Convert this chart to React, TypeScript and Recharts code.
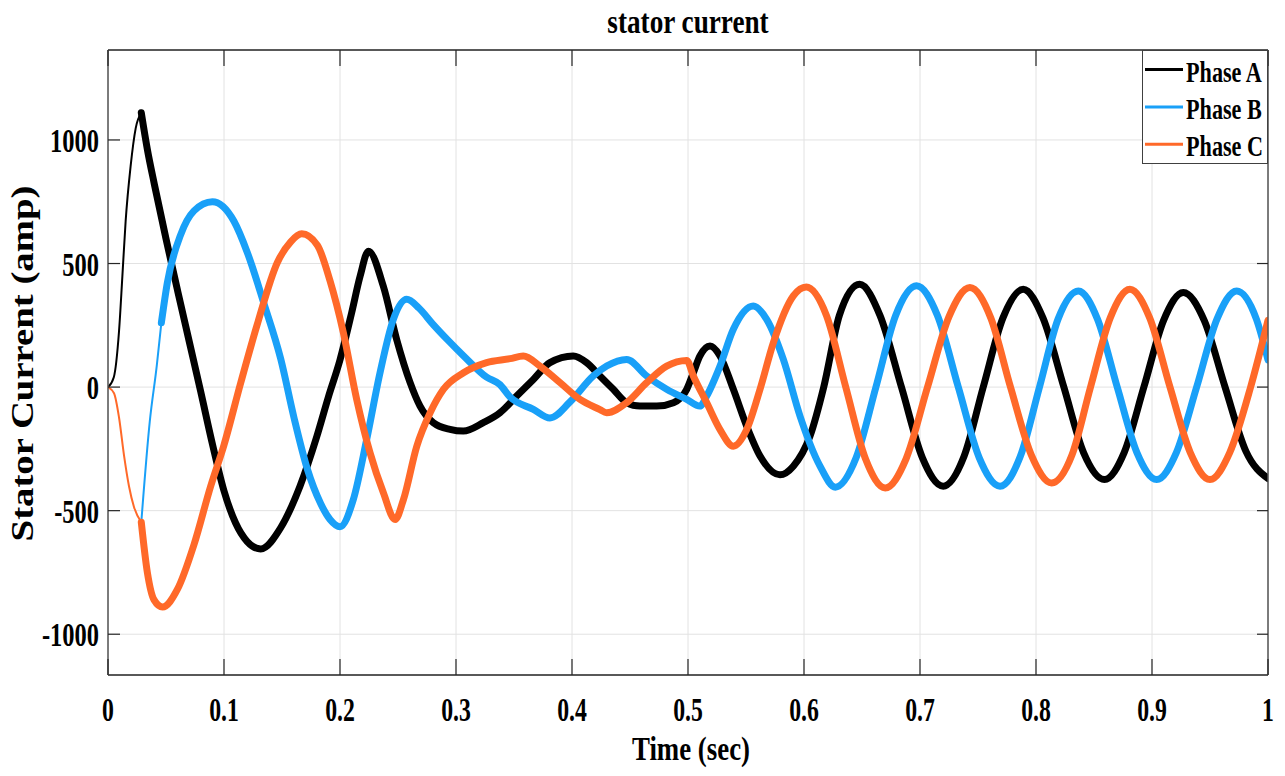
import { CartesianGrid, Legend, Line, LineChart, XAxis, YAxis } from "recharts";

type Pt = [number, number];

// time (s), current (A)
const phaseAStart: Pt[] = [
  [0, 0], [0.005, 40], [0.0095, 226], [0.0124, 449], [0.0152, 671], [0.0195, 894], [0.0239, 1048], [0.0287, 1110],
];
const phaseA: Pt[] = [
  [0.0287, 1110], [0.034, 960], [0.04, 820], [0.05, 600], [0.06, 390], [0.07, 185], [0.08, -20],
  [0.09, -230], [0.1, -420], [0.11, -550], [0.12, -625], [0.1316, -655], [0.149, -568], [0.1655, -401],
  [0.18, -200], [0.19, -40], [0.2, 110], [0.21, 300], [0.2174, 450], [0.2245, 550], [0.2373, 409],
  [0.249, 190], [0.2603, 20], [0.269, -77], [0.2805, -144], [0.2948, -171], [0.3063, -178], [0.3236, -144],
  [0.3379, -104], [0.3523, -36], [0.3667, 31], [0.381, 99], [0.4011, 126], [0.4126, 99], [0.4241, 45],
  [0.4356, -9], [0.4471, -63], [0.4586, -77], [0.473, -77], [0.4874, -63], [0.4989, -9], [0.5046, 58],
  [0.5103, 126], [0.519, 166], [0.5276, 126], [0.5391, -9], [0.5506, -158], [0.5621, -279], [0.5793, -355],
  [0.5908, -320], [0.6052, -198], [0.617, 0], [0.6305, 290], [0.648, 416], [0.6655, 290], [0.684, 0],
  [0.702, -285], [0.72, -401], [0.738, -280], [0.7545, 0], [0.7715, 280], [0.789, 396], [0.806, 280],
  [0.824, 0], [0.841, -265], [0.859, -374], [0.876, -265], [0.893, 0], [0.91, 270], [0.927, 383],
  [0.945, 270], [0.963, 0], [0.981, -260], [1.0, -370],
];

const phaseBStart: Pt[] = [[0.0287, -547], [0.036, -140], [0.042, 85], [0.046, 260]];
const phaseB: Pt[] = [
  [0.046, 260], [0.0511, 421], [0.0626, 616], [0.0741, 713], [0.09, 750], [0.1086, 671], [0.12, 546],
  [0.1345, 337], [0.1489, 114], [0.1603, -123], [0.1718, -331], [0.1833, -471], [0.1914, -536], [0.2, -565],
  [0.2115, -455], [0.223, -212], [0.2345, 58], [0.246, 274], [0.2575, 355], [0.268, 320], [0.28, 255],
  [0.293, 190], [0.3066, 126], [0.3264, 40], [0.3379, 10], [0.3466, -40], [0.3667, -90], [0.381, -125],
  [0.3983, -60], [0.4184, 45], [0.4299, 85], [0.4471, 112], [0.4644, 45], [0.4816, -9], [0.4989, -50],
  [0.5103, -77], [0.5161, -36], [0.5276, 85], [0.5391, 234], [0.5563, 328], [0.5678, 274], [0.5822, 112],
  [0.5966, -118], [0.6138, -320], [0.627, -405], [0.645, -285], [0.662, 0], [0.679, 290], [0.697, 410],
  [0.715, 290], [0.733, 0], [0.751, -285], [0.769, -401], [0.7865, -280], [0.803, 0], [0.819, 275],
  [0.8365, 389], [0.853, 275], [0.87, 0], [0.887, -265], [0.904, -374], [0.921, -265], [0.9385, 0],
  [0.956, 275], [0.973, 389], [0.99, 275], [1.0, 110],
];

const phaseCStart: Pt[] = [
  [0, 0], [0.0052, -25], [0.0095, -123], [0.0138, -276], [0.0181, -401], [0.0224, -485], [0.0287, -547],
];
const phaseC: Pt[] = [
  [0.0287, -547], [0.0339, -749], [0.0397, -861], [0.047, -890], [0.0598, -819], [0.0741, -638],
  [0.0885, -401], [0.1, -234], [0.1144, 17], [0.1287, 254], [0.146, 504], [0.1575, 588], [0.167, 620],
  [0.1805, 574], [0.1914, 430], [0.2029, 220], [0.2144, -50], [0.2259, -266], [0.2374, -428], [0.2475, -536],
  [0.2547, -455], [0.2662, -239], [0.2777, -104], [0.2892, -9], [0.3065, 58], [0.3264, 99], [0.3466, 115],
  [0.358, 126], [0.3724, 85], [0.3897, 18], [0.4069, -50], [0.4241, -91], [0.4299, -104], [0.4471, -63],
  [0.4644, 18], [0.4816, 85], [0.4989, 108], [0.5046, 45], [0.5161, -63], [0.5276, -172], [0.5391, -239],
  [0.5506, -172], [0.5621, -9], [0.5736, 180], [0.5908, 369], [0.602, 405], [0.6195, 288], [0.636, 0],
  [0.653, -290], [0.67, -408], [0.688, -290], [0.7065, 0], [0.725, 285], [0.743, 403], [0.761, 280],
  [0.778, 0], [0.796, -275], [0.8135, -388], [0.831, -275], [0.847, 0], [0.864, 280], [0.881, 396],
  [0.898, 280], [0.9155, 0], [0.933, -265], [0.95, -374], [0.967, -265], [0.985, 0], [1.0, 270],
];

const xTicks = [0, 0.1, 0.2, 0.3, 0.4, 0.5, 0.6, 0.7, 0.8, 0.9, 1];
const yTicks = [-1000, -500, 0, 500, 1000];
const xDomain: [number, number] = [0, 1];
const yDomain: [number, number] = [-1165, 1364];

const seriesNames = ["Phase A", "Phase B", "Phase C"];
const COLORS = ["#000000", "#19a0f8", "#ff6929"];

const FONT = '"Liberation Serif", "Times New Roman", serif';
const AXIS = "#262626";

const toRows = (pts: Pt[]) => pts.map(([t, v]) => ({ t, v }));

// labels in the source are squeezed horizontally, so text gets a scaleX
function SquishText({ x, y, sx, size, anchor = "middle", children }: any) {
  return (
    <g transform={`translate(${x},${y}) scale(${sx},1)`}>
      <text x={0} y={0} textAnchor={anchor} fontFamily={FONT} fontWeight="bold" fontSize={size} fill="#000">
        {children}
      </text>
    </g>
  );
}

const BottomTick = ({ x, y, payload }: any) => (
  <g>
    <line x1={x} y1={y} x2={x} y2={y - 16} stroke={AXIS} strokeWidth={1.2} />
    <SquishText x={x} y={y + 46} sx={0.7} size={34}>
      {String(payload.value)}
    </SquishText>
  </g>
);

const TopTick = ({ x, y }: any) => <line x1={x} y1={y} x2={x} y2={y + 16} stroke={AXIS} strokeWidth={1.2} />;

const LeftTick = ({ x, y, payload }: any) => (
  <g>
    <line x1={x} y1={y} x2={x + 12} y2={y} stroke={AXIS} strokeWidth={1.2} />
    <SquishText x={x - 9} y={y + 12} sx={0.72} size={34} anchor="end">
      {String(payload.value)}
    </SquishText>
  </g>
);

const RightTick = ({ x, y }: any) => <line x1={x} y1={y} x2={x - 11} y2={y} stroke={AXIS} strokeWidth={1.2} />;

function PhaseLegend() {
  return (
    <svg width={127} height={115} style={{ display: "block" }}>
      <rect x={0.5} y={0.5} width={125} height={113} fill="#fff" stroke="#404040" strokeWidth={1} />
      {seriesNames.map((name, i) => (
        <g key={name}>
          <line x1={3} x2={41} y1={19.5 + i * 37.4} y2={19.5 + i * 37.4} stroke={COLORS[i]} strokeWidth={3} />
          <g transform={`translate(44,${31.5 + i * 37.4}) scale(0.74,1)`}>
            <text fontFamily={FONT} fontWeight="bold" fontSize={30} fill="#000">
              {name}
            </text>
          </g>
        </g>
      ))}
    </svg>
  );
}

export default function App() {
  const lineProps = {
    type: "monotone" as const,
    dataKey: "v",
    dot: false,
    activeDot: false,
    isAnimationActive: false,
    strokeLinejoin: "round" as const,
    strokeLinecap: "round" as const,
  };

  // plot box ends up at x 108..1268, y 50..675
  return (
    <div style={{ position: "absolute", left: 0, top: 0, background: "#fff" }}>
      <LineChart width={1285} height={776} margin={{ top: 40, right: 7, bottom: 61, left: 48 }}>
        <CartesianGrid stroke="#e2e2e2" strokeWidth={1} />
        <XAxis
          dataKey="t"
          type="number"
          domain={xDomain}
          ticks={xTicks}
          allowDataOverflow
          height={40}
          tickSize={0}
          tickMargin={0}
          tick={(p: any) => <BottomTick {...p} />}
          axisLine={{ stroke: AXIS, strokeWidth: 1.5 }}
          interval={0}
          label={{
            content: () => (
              <SquishText x={691} y={760} sx={0.79} size={34}>
                Time (sec)
              </SquishText>
            ),
          }}
        />
        <XAxis
          xAxisId="top"
          orientation="top"
          dataKey="t"
          type="number"
          domain={xDomain}
          ticks={xTicks}
          allowDataOverflow
          height={10}
          tickSize={0}
          tickMargin={0}
          tick={(p: any) => <TopTick {...p} />}
          axisLine={{ stroke: AXIS, strokeWidth: 1.5 }}
          interval={0}
          label={{
            content: () => (
              <SquishText x={688} y={33} sx={0.8} size={34}>
                stator current
              </SquishText>
            ),
          }}
        />
        <YAxis
          type="number"
          domain={yDomain}
          ticks={yTicks}
          allowDataOverflow
          width={60}
          tickSize={0}
          tickMargin={0}
          tick={(p: any) => <LeftTick {...p} />}
          axisLine={{ stroke: "#555", strokeWidth: 1.5 }}
          interval={0}
          label={{
            content: () => (
              <g transform="translate(33,363.5) rotate(-90) scale(1.25,1)">
                <text textAnchor="middle" fontFamily={FONT} fontWeight="bold" fontSize={31} fill="#000">
                  Stator Current (amp)
                </text>
              </g>
            ),
          }}
        />
        <YAxis
          yAxisId="right"
          orientation="right"
          type="number"
          domain={yDomain}
          ticks={yTicks}
          allowDataOverflow
          width={10}
          tickSize={0}
          tickMargin={0}
          tick={(p: any) => <RightTick {...p} />}
          axisLine={{ stroke: "#555", strokeWidth: 1.5 }}
          interval={0}
        />
        <Legend
          layout="vertical"
          align="center"
          verticalAlign="middle"
          content={() => <PhaseLegend />}
          wrapperStyle={{ left: 1142, top: 50, width: 127, height: 115 }}
        />
        <Line {...lineProps} data={toRows(phaseAStart)} stroke={COLORS[0]} strokeWidth={2} legendType="none" />
        <Line {...lineProps} data={toRows(phaseA)} stroke={COLORS[0]} strokeWidth={7} name={seriesNames[0]} />
        <Line {...lineProps} data={toRows(phaseBStart)} stroke={COLORS[1]} strokeWidth={2} legendType="none" />
        <Line {...lineProps} data={toRows(phaseB)} stroke={COLORS[1]} strokeWidth={7} name={seriesNames[1]} />
        <Line {...lineProps} data={toRows(phaseCStart)} stroke={COLORS[2]} strokeWidth={2} legendType="none" />
        <Line {...lineProps} data={toRows(phaseC)} stroke={COLORS[2]} strokeWidth={7} name={seriesNames[2]} />
      </LineChart>
    </div>
  );
}
